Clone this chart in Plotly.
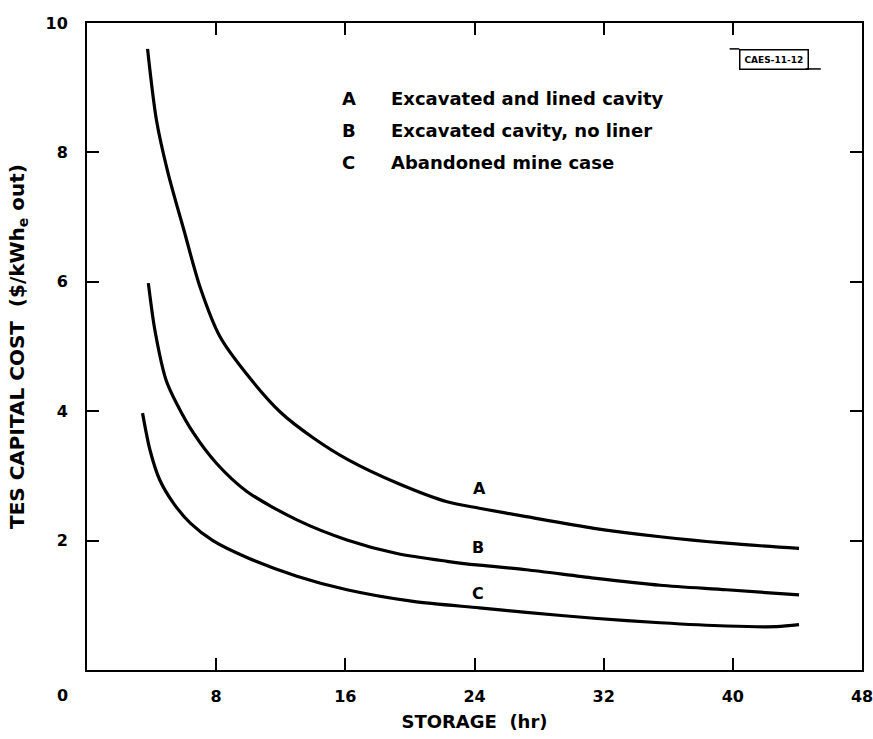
import plotly.graph_objects as go

# ---- data ----
A_x = [3.75, 4.3, 5.0, 6.0, 7.0, 8.24, 9.9, 12.0, 14.0, 16.1, 19.2, 22.3, 24.3, 27.2, 31.4, 35.5, 39.6, 44.1]
A_y = [9.6, 8.5, 7.7, 6.8, 5.92, 5.15, 4.57, 3.98, 3.59, 3.26, 2.89, 2.6, 2.5, 2.37, 2.19, 2.06, 1.96, 1.88]

B_x = [3.8, 4.2, 4.9, 5.55, 6.6, 8.0, 9.9, 13.0, 16.1, 19.2, 22.3, 24.3, 27.2, 31.4, 35.5, 39.6, 44.1]
B_y = [5.98, 5.26, 4.48, 4.12, 3.66, 3.2, 2.76, 2.32, 2.01, 1.80, 1.68, 1.62, 1.55, 1.42, 1.31, 1.24, 1.16]

C_x = [3.44, 3.9, 4.5, 5.35, 6.4, 7.8, 9.9, 13.0, 16.1, 20.2, 24.3, 27.2, 31.4, 35.5, 39.6, 42.7, 44.1]
C_y = [3.97, 3.40, 2.94, 2.58, 2.27, 2.0, 1.74, 1.45, 1.24, 1.06, 0.96, 0.89, 0.80, 0.73, 0.68, 0.67, 0.70]

curve_labels = ["A", "B", "C"]
curve_label_x = [24.3, 24.2, 24.2]
curve_label_y = [2.80, 1.90, 1.19]

legend_keys = ["A", "B", "C"]
legend_texts = ["Excavated and lined cavity", "Excavated cavity, no liner", "Abandoned mine case"]

x_tickvals = [8, 16, 24, 32, 40, 48]
x_ticktext = ["8", "16", "24", "32", "40", "48"]
y_tickvals = [2, 4, 6, 8, 10]
y_ticktext = ["2", "4", "6", "8", "10"]

x_title = "STORAGE  (hr)"
y_title = "TES CAPITAL COST  ($/kWh<sub>e</sub> out)"
stamp = "CAES-11-12"

FONT = "DejaVu Sans"

fig = go.Figure()
for xs, ys in [(A_x, A_y), (B_x, B_y), (C_x, C_y)]:
    fig.add_trace(go.Scatter(x=xs, y=ys, mode="lines",
                             line=dict(color="black", width=3.2, shape="spline", smoothing=0.8),
                             showlegend=False, hoverinfo="skip"))

for lab, lx, ly in zip(curve_labels, curve_label_x, curve_label_y):
    fig.add_annotation(x=lx, y=ly, text=lab, showarrow=False,
                       font=dict(family=FONT, size=16, color="black", weight="bold"))

# legend-like text block
leg_y0 = 8.84
for i, (k, t) in enumerate(zip(legend_keys, legend_texts)):
    yy = leg_y0 - i * 0.495
    fig.add_annotation(x=16.2, y=yy, text=k, showarrow=False, xanchor="center",
                       font=dict(family=FONT, size=18, color="black", weight="bold"))
    fig.add_annotation(x=18.7, y=yy, text=t, showarrow=False, xanchor="left",
                       font=dict(family=FONT, size=18, color="black", weight="bold"))

# origin label
fig.add_annotation(x=0, y=0, xref="x", yref="y", text="0", showarrow=False,
                   xshift=-25, yshift=-25,
                   font=dict(family=FONT, size=16, color="black", weight="bold"))

# stamp box
fig.add_annotation(x=40.37, y=9.44, text=stamp, showarrow=False, xanchor="left",
                   bordercolor="black", borderwidth=1.5, borderpad=4,
                   font=dict(family=FONT, size=9, color="black", weight="bold"))
fig.add_shape(type="line", x0=39.8, x1=40.4, y0=9.6, y1=9.6,
              line=dict(color="black", width=1.5))
fig.add_shape(type="line", x0=44.5, x1=45.45, y0=9.29, y1=9.29,
              line=dict(color="black", width=1.5))

axis_common = dict(showgrid=False, zeroline=False, showline=True, linecolor="black",
                   linewidth=2, mirror="ticks", ticks="inside", ticklen=12,
                   tickwidth=2, tickcolor="black", automargin=False,
                   ticklabeloverflow="allow",
                   tickfont=dict(family=FONT, size=16, color="black", weight="bold"))

fig.update_xaxes(range=[0, 48], tickmode="array", tickvals=x_tickvals, ticktext=x_ticktext,
                 ticklabelstandoff=11,
                 title=dict(text=x_title, standoff=10,
                            font=dict(family=FONT, size=18, color="black", weight="bold")),
                 **axis_common)
fig.update_yaxes(range=[0, 10], tickmode="array", tickvals=y_tickvals, ticktext=y_ticktext,
                 ticklabelstandoff=14,
                 title=dict(text=y_title, standoff=16,
                            font=dict(family=FONT, size=20, color="black", weight="bold")),
                 **axis_common)

fig.update_layout(width=873, height=739, plot_bgcolor="white", paper_bgcolor="white",
                  margin=dict(l=87, r=11, t=23, b=69), showlegend=False)

# remove the default 8px page margin so the figure fills the window exactly
fig.write_html("out.html", config={"displayModeBar": False},
               post_script=["document.body.style.margin='0';document.body.style.overflow='hidden';"])
